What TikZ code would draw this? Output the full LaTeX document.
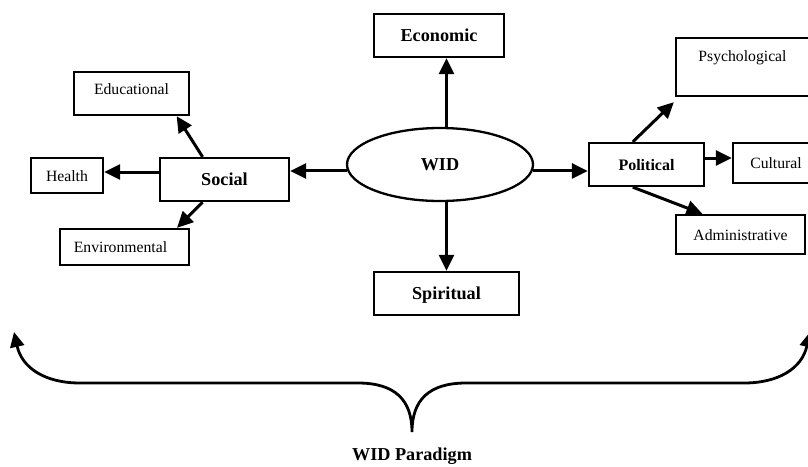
\documentclass[tikz,border=0pt]{standalone}
\usepackage{fontspec}
\setmainfont{Liberation Serif}
\usetikzlibrary{arrows.meta,shapes.geometric,calc}

\tikzset{
  box/.style={draw, line width=2.3pt, inner sep=0pt, text height=11pt, text depth=0pt,
    font=\fontsize{15.7}{18}\selectfont},
  bigbox/.style={box, text height=12.4pt, font=\fontsize{18.2}{21}\selectfont\bfseries},
  lift/.style={text depth=#1},
  arr/.style={line width=3pt, -{Triangle[length=16pt,width=15pt]}},
  bracearr/.style={line width=2.8pt, {Triangle[length=15pt,width=14pt]}-{Triangle[length=15pt,width=14pt]}}
}

\begin{document}
\begin{tikzpicture}[x=1pt, y=-1pt]
  \useasboundingbox (0,0) rectangle (808,466);
  \clip (0,0) rectangle (808,466);

  % centre and the four main domains
  \node[ellipse, draw, line width=2.3pt, inner sep=0pt, minimum width=186pt, minimum height=73pt,
        font=\fontsize{18.2}{21}\selectfont\bfseries] (wid) at (440,164.5) {WID};
  \node[bigbox, minimum width=130pt, minimum height=43pt] (eco) at (439,35.5) {Economic};
  \node[bigbox, minimum width=145pt, minimum height=43pt] (spi) at (446.5,293.5) {Spiritual};
  \node[bigbox, minimum width=129pt, minimum height=43pt] (soc) at (224.5,179.5) {Social};
  \node[box, font=\fontsize{16}{19}\selectfont\bfseries, minimum width=115pt, minimum height=43pt]
        (pol) at (646.5,164.5) {Political};

  % social branches
  \node[box, lift=9pt, minimum width=115pt, minimum height=43pt] (edu) at (131.5,93.5) {Educational};
  \node[box, minimum width=72pt, minimum height=35pt] (hea) at (67,175.5) {Health};
  \node[box, minimum width=129pt, minimum height=36pt] (env) at (124.5,247) {\hspace*{-8pt}Environmental};

  % political branches
  \node[box, lift=22pt, minimum width=133pt, minimum height=58pt] (psy) at (742.5,67) {Psychological};
  \node[box, minimum width=86pt, minimum height=40pt] (cul) at (776,163) {Cultural};
  \node[box, minimum width=129pt, minimum height=39pt] (adm) at (740.5,234.5) {Administrative};

  % connectors from the centre
  \draw[arr] (wid.north -| spi.north) -- (eco.south -| spi.north);
  \draw[arr] (wid.south -| spi.north) -- (spi.north);
  \draw[arr] (wid.184.7) -- (wid.184.7 -| soc.east);
  \draw[arr] (wid.-4.7) -- (wid.-4.7 -| pol.west);

  % connectors of the social group
  \draw[arr] ($(soc.north west)!0.333!(soc.north east)$) -- ($(edu.south west)!0.885!(edu.south east)$);
  \draw[arr] ([yshift=7.5pt]soc.west) -- ([yshift=7.5pt]soc.west -| hea.east);
  \draw[arr] ($(soc.south west)!0.333!(soc.south east)$) -- ($(env.north west)!0.9!(env.north east)$);

  % connectors of the political group
  \draw[arr] ($(pol.north west)!0.383!(pol.north east)$) -- ([shift={(-1pt,-5pt)}]psy.south west);
  \draw[arr] ([yshift=6.5pt]pol.east) -- ([yshift=6.5pt]pol.east -| cul.west);
  \draw[arr] ($(pol.south west)!0.383!(pol.south east)$) -- ($(adm.north west)!0.21!(adm.north east)$);

  % the brace gathering the whole paradigm
  \coordinate (bl) at (14,332);
  \coordinate (br) at (810,332);
  \coordinate (cusp) at (412,432);
  \draw[bracearr] (bl) .. controls (22,368) and (45,383) .. (80,383)
        -- (358,383) .. controls (395,383) and (412,400) .. (cusp)
        .. controls (412,400) and (429,383) .. (466,383)
        -- (744,383) .. controls (779,383) and (802,368) .. (br);
  \node[font=\fontsize{18.2}{21}\selectfont\bfseries, anchor=base] (para) at (412,460) {WID Paradigm};
\end{tikzpicture}
\end{document}
